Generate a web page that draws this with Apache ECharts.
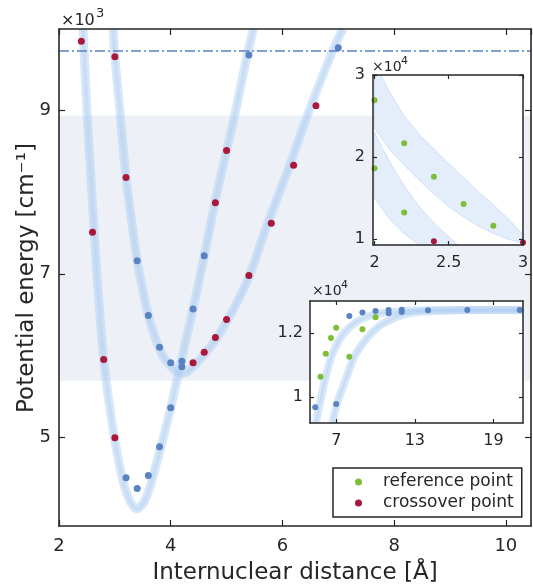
<!DOCTYPE html>
<html><head><meta charset="utf-8">
<script src="https://cdn.jsdelivr.net/npm/echarts@6/dist/echarts.min.js"></script>
<style>html,body{margin:0;padding:0;background:#fff}#c{width:533px;height:585px}</style>
</head><body><div id="c"></div><script>
// ---------- data ----------
// Main panel
const mainXRange = [2, 10.45];
const mainYRange = [3910, 10000];
const mainYTicks = [5000, 7000, 9000];
const curveA = [[2.43,10000],[2.5,9000],[2.57,8200],[2.63,7500],[2.7,6800],[2.78,6100],[2.88,5500],[2.99,5000],[3.1,4600],[3.2,4330],[3.3,4180],[3.39,4120],[3.5,4180],[3.6,4330],[3.7,4560],[3.8,4820],[3.9,5080],[4.0,5360],[4.11,5690],[4.23,6060],[4.4,6570],[4.6,7220],[4.8,7900],[5.0,8510],[5.15,8960],[5.37,9680],[5.48,10000]];
const curveB = [[2.97,10000],[3.0,9660],[3.09,9000],[3.2,8180],[3.3,7640],[3.4,7160],[3.5,6800],[3.6,6490],[3.7,6260],[3.8,6080],[3.9,5950],[4.0,5870],[4.1,5800],[4.2,5780],[4.3,5800],[4.4,5860],[4.6,6010],[4.8,6190],[5.0,6410],[5.2,6670],[5.4,6960],[5.72,7590],[6.13,8330],[6.49,9020],[6.91,9750],[7.08,10000]];
const crossMain = [[2.4,9850],[3.0,9660],[3.2,8180],[2.6,7510],[2.8,5950],[3.0,4990],[4.4,5910],[4.6,6040],[4.8,6220],[5.0,6440],[5.4,6980],[5.8,7620],[6.2,8330],[6.6,9060],[4.8,7870],[5.0,8510]];
const levelMain = [[3.2,4500],[3.4,4370],[3.6,4530],[3.8,4880],[4.0,5360],[4.2,5860],[4.4,6570],[4.6,7220],[5.4,9680],[3.4,7160],[3.6,6490],[3.8,6100],[4.0,5910],[4.2,5930],[7.0,9770]];
const thresholdEnergy = 9735;
const shadedBand = [5690, 8940];

// Inset 1 (top right)
const in1XRange = [1.99, 3.0];
const in1YRange = [9300, 30000];
const in1XTicks = [2, 2.5, 3];
const in1YTicks = [10000, 20000, 30000];
const refIn1 = [[2.0,26940],[2.0,18650],[2.2,21680],[2.2,13270],[2.4,17600],[2.6,14300],[2.8,11650]];
const crossIn1 = [[2.4,9770],[3.0,9600]];
const fanUpperX  = [2.0, 2.1, 2.2, 2.3, 2.4, 2.5, 2.6, 2.7, 2.8, 2.9, 3.0];
const fanUpperHi = [31500, 28000, 25000, 22800, 21000, 19200, 17500, 15800, 14200, 12500, 10600];
const fanUpperLo = [23500, 21000, 19000, 17200, 15500, 14000, 12700, 11600, 10700, 10000, 9500];
const fanLowerX  = [2.0, 2.1, 2.2, 2.3, 2.4, 2.5, 2.56];
const fanLowerHi = [23000, 19500, 16500, 14000, 12000, 10300, 9300];
const fanLowerLo = [15000, 12500, 10700, 9300, 9300, 9300, 9300];

// Inset 2 (bottom right)
const in2XRange = [5, 21.25];
const in2YRange = [9200, 13000];
const in2XTicks = [7, 13, 19];
const in2YTicks = [10000, 12000];
const levelIn2 = [[5.4,9690],[7,9790],[8,12530],[9,12640],[10,12690],[11,12720],[11,12620],[12,12730],[12,12660],[14,12710],[17,12720],[21,12720]];
const refIn2 = [[5.8,10640],[6.2,11360],[6.6,11850],[7.0,12170],[8,11260],[9,12120],[10,12490]];
const in2CurveA = [[5.45,9200],[5.7,9710],[6.2,10640],[6.72,11360],[7.56,11980],[8.7,12390],[10.1,12600],[12,12680],[14,12710],[21.25,12720]];
const in2CurveB = [[6.72,9200],[7.05,9790],[7.8,10640],[8.37,11260],[9.2,11770],[10.2,12190],[11.6,12500],[12.9,12640],[15,12700],[17,12720],[21.25,12720]];

// ---------- styling ----------
const FONT = 'DejaVu Sans';
const INK = '#262626';
const RED = '#a9183b';
const BLUE = '#5a83c2';
const GREEN = '#7dbd37';

const chart = echarts.init(document.getElementById('c'), null, {renderer: 'canvas'});

function axis(opts) {
  const o = {
    type: 'value', gridIndex: opts.grid, min: opts.range[0], max: opts.range[1],
    position: opts.position, z: opts.z,
    axisLine: {show: true, onZero: false, lineStyle: {color: INK, width: opts.lw}},
    axisTick: {show: true, inside: true, length: opts.tick, lineStyle: {color: INK, width: 1.2}},
    axisLabel: {show: !!opts.labels, color: INK, fontFamily: FONT, fontSize: opts.fs, margin: opts.margin, formatter: opts.fmt},
    splitLine: {show: false}
  };
  if (opts.interval) o.interval = opts.interval;
  if (opts.ticks) {
    o.axisTick.customValues = opts.ticks;
    o.axisLabel.customValues = opts.ticks;
  }
  return o;
}

const xAxes = [
  axis({grid:0, range: mainXRange, interval: 2, position:'bottom', z:5, lw:1.6, tick:6, labels:true, fs:18, margin:11}),
  axis({grid:0, range: mainXRange, interval: 2, position:'top', z:5, lw:1.6, tick:6}),
  axis({grid:1, range: in1XRange, ticks: in1XTicks, position:'bottom', z:30, lw:1.5, tick:4, labels:true, fs:16, margin:10}),
  axis({grid:1, range: in1XRange, ticks: in1XTicks, position:'top', z:30, lw:1.5, tick:4}),
  axis({grid:2, range: in2XRange, ticks: in2XTicks, position:'bottom', z:30, lw:1.5, tick:4, labels:true, fs:16, margin:10}),
  axis({grid:2, range: in2XRange, ticks: in2XTicks, position:'top', z:30, lw:1.5, tick:4})
];
const yAxes = [
  axis({grid:0, range: mainYRange, ticks: mainYTicks, position:'left', z:5, lw:1.6, tick:6, labels:true, fs:18, margin:8, fmt: v => String(v/1000)}),
  axis({grid:0, range: mainYRange, ticks: mainYTicks, position:'right', z:5, lw:1.6, tick:6}),
  axis({grid:1, range: in1YRange, ticks: in1YTicks, position:'left', z:30, lw:1.5, tick:4, labels:true, fs:16, margin:8, fmt: v => String(v/10000)}),
  axis({grid:1, range: in1YRange, ticks: in1YTicks, position:'right', z:30, lw:1.5, tick:4}),
  axis({grid:2, range: in2YRange, ticks: in2YTicks, position:'left', z:30, lw:1.5, tick:4, labels:true, fs:16, margin:7, fmt: v => String(+(v/10000).toFixed(2))}),
  axis({grid:2, range: in2YRange, ticks: in2YTicks, position:'right', z:30, lw:1.5, tick:4})
];

// an ensemble band: a wide faint stroke plus a narrower denser core
function bandLines(data, xi, yi, z, w) {
  const base = {type:'line', xAxisIndex:xi, yAxisIndex:yi, z:z, data:data, smooth:0.3, symbol:'none', silent:true};
  return [
    Object.assign({}, base, {lineStyle:{color:'rgba(170,204,242,0.45)', width:w}}),
    Object.assign({}, base, {lineStyle:{color:'rgba(170,204,242,0.35)', width:Math.max(2, w - 5)}})
  ];
}
function scatter(name, data, color, xi, yi, z, size) {
  return {type:'scatter', name:name, xAxisIndex:xi, yAxisIndex:yi, z:z, data:data, symbolSize:size,
    itemStyle:{color:color, opacity:1}, silent:true};
}
function fan(xs, hi, lo, xi, yi) {
  return {
    type:'custom', xAxisIndex:xi, yAxisIndex:yi, z:22, silent:true,
    data:[[xs[0], hi[0]]],
    renderItem: function (params, api) {
      const pts = [];
      for (let i = 0; i < xs.length; i++) pts.push(api.coord([xs[i], hi[i]]));
      for (let i = xs.length - 1; i >= 0; i--) pts.push(api.coord([xs[i], lo[i]]));
      const cs = params.coordSys;
      return {type:'polygon', shape:{points:pts},
        style:{fill:'rgba(190,214,244,0.42)', stroke:'rgba(175,206,242,0.5)', lineWidth:1},
        clipPath:{type:'rect', shape:{x:cs.x, y:cs.y, width:cs.width, height:cs.height}}};
    }
  };
}
function dashLine(xi, yi, z) {
  return {type:'line', xAxisIndex:xi, yAxisIndex:yi, z:z, data:[], silent:true,
    markLine:{silent:true, symbol:'none', label:{show:false},
      lineStyle:{color:BLUE, width:1.5, type:[10,3,2,3], opacity:1},
      data:[{yAxis: thresholdEnergy}]}};
}

const series = [
  // shaded region in main panel
  {type:'line', xAxisIndex:0, yAxisIndex:0, z:1, data:[], silent:true,
    markArea:{silent:true, itemStyle:{color:'#edf1f7'}, data:[[{yAxis: shadedBand[0]}, {yAxis: shadedBand[1]}]]}},
  ...bandLines(curveA, 0, 0, 2, 9),
  ...bandLines(curveB, 0, 0, 2, 9),
  dashLine(0, 0, 3),
  scatter('level', levelMain, BLUE, 0, 0, 4, 7),
  scatter('crossover point', crossMain, RED, 0, 0, 4, 7),
  // inset 1
  fan(fanUpperX, fanUpperHi, fanUpperLo, 2, 2),
  fan(fanLowerX, fanLowerHi, fanLowerLo, 2, 2),
  dashLine(2, 2, 23),
  scatter('reference point', refIn1, GREEN, 2, 2, 24, 6),
  scatter('crossover point', crossIn1, RED, 2, 2, 24, 6),
  // inset 2
  ...bandLines(in2CurveA, 4, 4, 22, 8),
  ...bandLines(in2CurveB, 4, 4, 22, 8),
  dashLine(4, 4, 23),
  scatter('level', levelIn2, BLUE, 4, 4, 24, 6),
  scatter('reference point', refIn2, GREEN, 4, 4, 24, 6)
];

const txt = (x, y, text, size, extra) => Object.assign({type:'text', x:x, y:y, z:100,
  style:Object.assign({text:text, fill:INK, font: size + 'px "' + FONT + '"', textAlign:'left', textVerticalAlign:'middle'}, extra || {})});

chart.setOption({
  backgroundColor:'#fff',
  animation:false,
  grid:[
    {left:59, top:29, width:472, height:497, containLabel:false},
    {left:373, top:75, width:150, height:170, z:20, show:true, backgroundColor:'#fff', borderWidth:0},
    {left:310, top:301, width:213, height:122, z:20, show:true, backgroundColor:'#fff', borderWidth:0}
  ],
  xAxis: xAxes,
  yAxis: yAxes,
  legend:{
    data:['reference point','crossover point'], orient:'vertical', left:333, top:468, z:40,
    icon:'circle', itemWidth:7, itemHeight:7, itemGap:1,
    padding:[4, 8, 4, 22], borderColor:INK, borderWidth:1.5, backgroundColor:'#fff',
    textStyle:{fontFamily:FONT, fontSize:17, color:INK, lineHeight:20, padding:[0,0,0,16]}
  },
  graphic:[
    txt(295, 573, 'Internuclear distance [Å]', 23, {textAlign:'center'}),
    Object.assign(txt(27, 278, 'Potential energy [cm⁻¹]', 23, {textAlign:'center'}), {rotation: Math.PI/2}),
    txt(61, 21, '×10', 16), txt(96, 13.5, '3', 13),
    txt(372, 67, '×10', 14), txt(401, 61, '4', 11),
    txt(312, 291, '×10', 14), txt(341, 285, '4', 11)
  ],
  series: series
});
</script></body></html>
